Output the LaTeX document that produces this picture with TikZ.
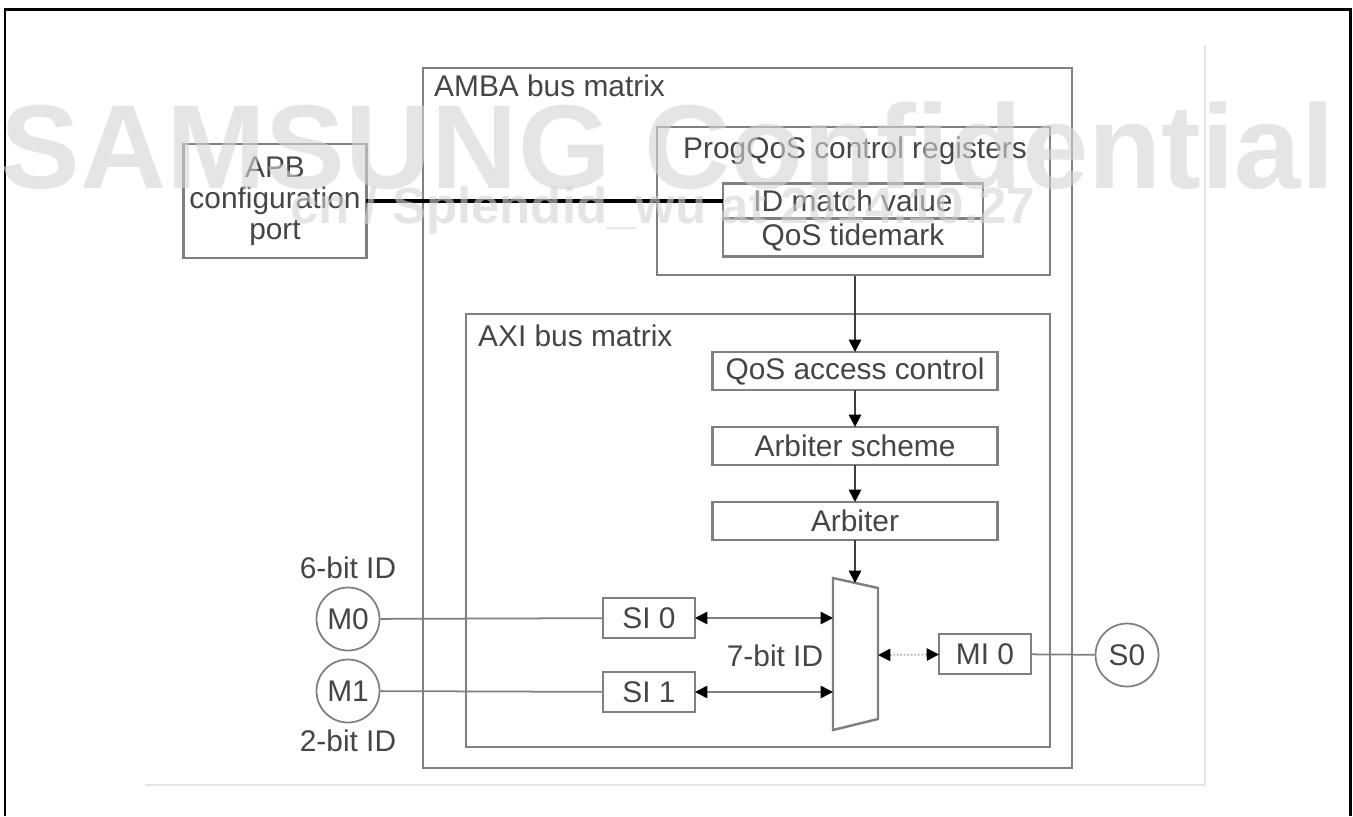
\documentclass[tikz,border=0pt]{standalone}
\usepackage{fontspec}
\setmainfont{Liberation Sans}
\usepackage{tikz}
\usetikzlibrary{arrows.meta,positioning,fit}

\definecolor{linegray}{gray}{0.5}
\definecolor{textgray}{gray}{0.27}
\definecolor{markgray}{gray}{0.83}

\tikzset{
  box/.style={draw=linegray, line width=1.4pt, text=textgray, inner sep=0pt, outer sep=0pt, minimum height=0.76cm},
  frame/.style={draw=linegray, line width=1.6pt, inner sep=0pt},
  port/.style={circle, draw=linegray, line width=1pt, text=textgray, minimum size=1.26cm, inner sep=0pt},
  lbl/.style={text=textgray},
  link/.style={draw=linegray, line width=1pt},
  flow/.style={draw=black!75, line width=1pt, -{Triangle[length=7pt,width=7pt,black]}},
  both/.style={draw=linegray, line width=1pt, {Triangle[length=7pt,width=7pt,black]}-{Triangle[length=7pt,width=7pt,black]}},
  wmark/.style={text=markgray, text opacity=0.6, inner sep=0pt, anchor=base west}
}

\begin{document}
\begin{tikzpicture}[x=0.02cm, y=-0.02cm, font=\fontsize{17}{17.6}\selectfont]
\useasboundingbox (0,0) rectangle (1353,816);

% page frame and screenshot edges
\draw[line width=1.7pt] (5,816) -- (5,9) -- (1350,9) -- (1350,816);
\draw[black!10, line width=1.2pt] (145,785) -- (1205,785) -- (1205,45);

% containers
\node[frame, fit={(423,68) (1072,768)}] (amba) {};
\node[lbl, anchor=west] (ambalbl) at (428,86) {AMBA bus matrix};
\node[frame, fit={(657,127) (1050,275)}] (progqos) {};
\node[lbl] (progqoslbl) at (855,151) {ProgQoS control registers};
\node[frame, fit={(466,314) (1050,747)}] (axi) {};
\node[lbl, anchor=west] (axilbl) at (472,336) {AXI bus matrix};

% registers and config port
\node[box, minimum width=5.2cm, minimum height=0.7cm] (idmatch) at (853,201) {ID match value};
\node[box, minimum width=5.2cm, below=0pt of idmatch] (tidemark) {QoS tidemark};
\node[box, align=center, minimum width=3.66cm, minimum height=2.28cm] (apb) at (275,201) {APB\\configuration\\port};

% QoS pipeline
\node[box, minimum width=5.7cm] (access) at (855,371) {QoS access control};
\node[box, minimum width=5.7cm, below=0.74cm of access] (scheme) {Arbiter scheme};
\node[box, minimum width=5.7cm, below=0.74cm of scheme] (arbiter) {Arbiter};

% multiplexer
\coordinate (muxtop) at (855,583);
\coordinate (muxin0) at (833,618);
\coordinate (muxin1) at (833,692);
\coordinate (muxout) at (878,655);
\draw[linegray, line width=1.4pt] (833,578) -- (878,588) -- (878,719) -- (833,730) -- cycle;

% interfaces
\node[box, minimum width=1.84cm, minimum height=0.8cm] (si0) at (649,618) {SI 0};
\node[box, minimum width=1.84cm, minimum height=0.8cm] (si1) at (649,692) {SI 1};
\node[box, minimum width=1.84cm, minimum height=0.8cm] (mi0) at (985,654) {MI 0};
\node[lbl] (id7) at (775,656) {7-bit ID};

% masters and slave
\node[port] (m0) at (348,619) {M0};
\node[port] (m1) at (348,691) {M1};
\node[port] (s0) at (1127,655) {S0};
\node[lbl] (id6) at (348,568) {6-bit ID};
\node[lbl] (id2) at (348,741) {2-bit ID};

% connections
\draw[line width=2.8pt] (apb) -- (idmatch);
\draw[flow] (access |- progqos.south) -- (access);
\draw[flow] (access) -- (scheme);
\draw[flow] (scheme) -- (arbiter);
\draw[flow] (arbiter) -- (muxtop);
\draw[link] (m0) -- (si0);
\draw[link] (m1) -- (si1);
\draw[both] (si0) -- (muxin0);
\draw[both] (si1) -- (muxin1);
\draw[both, draw=black!30, densely dotted] (muxout) -- (mi0);
\draw[link] (mi0) -- (s0);

% watermark
\node[wmark, font=\fontsize{68}{68}\selectfont\bfseries] (wm) at (0,188) {SAMSUNG Confidential};
\node[wmark, font=\fontsize{29}{29}\selectfont\bfseries] (wmsub) at (290,223) {cn / Splendid\_wu at 2014.10.27};
\end{tikzpicture}
\end{document}
